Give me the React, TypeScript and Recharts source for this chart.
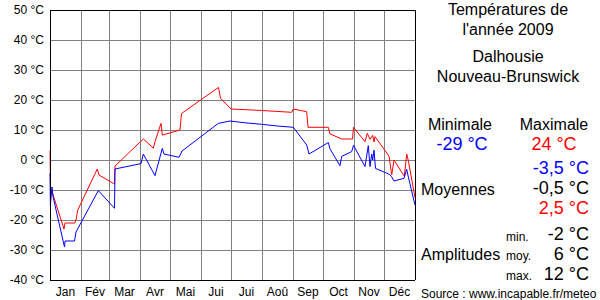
import { CartesianGrid, Line, LineChart, ReferenceLine, XAxis, YAxis } from 'recharts';

// x = day of year (0 = 1 Jan), one pixel per day in the original
const MONTH_STARTS = [0, 31, 59, 90, 120, 151, 181, 212, 243, 273, 304, 334, 365];
const MONTH_LABELS = ['Jan', 'Fév', 'Mar', 'Avr', 'Mai', 'Jui', 'Jui', 'Aoû', 'Sep', 'Oct', 'Nov', 'Déc'];
const MONTH_MIDS = MONTH_LABELS.map((_, i) => (MONTH_STARTS[i] + MONTH_STARTS[i + 1]) / 2);
const Y_TICKS = [-40, -30, -20, -10, 0, 10, 20, 30, 40, 50];

const MAX_DAYS = [
  0, 0.6, 1.5, 14, 15, 24.7, 26, 27.7, 47.3, 49, 63.3, 64.5, 65, 93.3, 102, 103.3, 105, 111, 112.3, 130,
  131.5, 168.5, 170.5, 181, 211.7, 241.7, 243.3, 256.7, 258, 278.3, 280, 291.7, 302.5, 303.5, 315, 317.3,
  320, 322.7, 324, 325, 339, 341.7, 344, 354.3, 356.7, 358.3, 365,
];
const MAX_TEMPS = [
  3, -10, -10, -23, -21, -21, -20, -16.7, -3, -5, -7.8, -8, -2, 7, 4.4, 3.9, 6.1, 12.2, 8.3, 10,
  15.5, 24.2, 20.6, 17, 16.5, 15.9, 17, 16.1, 10.9, 10.9, 8.7, 7, 7, 10.9, 6.1, 8.9,
  6.9, 8.2, 6, 7.8, 1.3, -5, 0, -5.4, 2, -0.2, -12.5,
];

const MIN_DAYS = [
  0, 0.4, 2, 3, 14.5, 15, 24.5, 26, 48.3, 64.5, 65, 91, 93.3, 105, 112.3, 114, 129, 132, 168.3, 180,
  195, 211.7, 228.3, 243.3, 256.7, 259, 278.3, 280, 290, 291.7, 301.7, 303.5, 315, 318.3, 320, 321.7,
  322.7, 324, 325.5, 339, 341.7, 344, 354, 356.7, 358.3, 365,
];
const MIN_TEMPS = [
  -4.4, -15, -9, -12.2, -29, -27, -27, -24, -10.2, -16.1, -3, -1.2, 2, -5.2, 3.9, 2, 0.9, 3, 12.2, 13,
  12.4, 11.9, 11.3, 10.9, 5, 2, 5.8, 3.7, -1.9, 1.2, 2.8, 4.9, -2.2, 4.8, -2.2, 2,
  0, 3.3, -2.8, -4.7, -5.6, -7, -6.1, -3.1, -5.6, -15,
];

const TITLE_LINES = ["Températures de", "l'année 2009"];
const PLACE_LINES = ['Dalhousie', 'Nouveau-Brunswick'];
const EXTREMES = { min: '-29 °C', max: '24 °C' };
const MEANS = ['-3,5 °C', '-0,5 °C', '2,5 °C'];
const AMPLITUDE_LABELS = ['min.', 'moy.', 'max.'];
const AMPLITUDES = ['-2 °C', '6 °C', '12 °C'];
const SOURCE = 'Source : www.incapable.fr/meteo';

const maxData = MAX_DAYS.map((d, i) => ({ d, t: MAX_TEMPS[i] }));
const minData = MIN_DAYS.map((d, i) => ({ d, t: MIN_TEMPS[i] }));

const RED = '#ff0000';
const BLUE = '#0000ff';
const GRID = '#808080';
const FONT = '"Liberation Sans", Arial, sans-serif';

const SidePanel = () => (
  <svg width={600} height={300} style={{ position: 'absolute', left: 0, top: 0, pointerEvents: 'none' }} fontFamily={FONT}>
    <g fontSize={16} textAnchor="middle" fill="#000">
      <text x={508} y={15}>{TITLE_LINES[0]}</text>
      <text x={508} y={35}>{TITLE_LINES[1]}</text>
      <text x={508} y={62}>{PLACE_LINES[0]}</text>
      <text x={508} y={82}>{PLACE_LINES[1]}</text>
      <text x={460} y={130}>Minimale</text>
      <text x={554} y={130}>Maximale</text>
    </g>
    <g fontSize={18} textAnchor="middle">
      <text x={462} y={150} fill={BLUE}>{EXTREMES.min}</text>
      <text x={554} y={150} fill={RED}>{EXTREMES.max}</text>
    </g>
    <g fontSize={18} textAnchor="end">
      <text x={589} y={174} fill={BLUE}>{MEANS[0]}</text>
      <text x={589} y={194} fill="#000">{MEANS[1]}</text>
      <text x={589} y={214} fill={RED}>{MEANS[2]}</text>
      <text x={589} y={240} fill="#000">{AMPLITUDES[0]}</text>
      <text x={589} y={260} fill="#000">{AMPLITUDES[1]}</text>
      <text x={589} y={280} fill="#000">{AMPLITUDES[2]}</text>
    </g>
    <text x={421} y={195} fontSize={16}>Moyennes</text>
    <text x={421} y={260} fontSize={16}>Amplitudes</text>
    <g fontSize={12}>
      <text x={506} y={241}>{AMPLITUDE_LABELS[0]}</text>
      <text x={506} y={260}>{AMPLITUDE_LABELS[1]}</text>
      <text x={506} y={280}>{AMPLITUDE_LABELS[2]}</text>
    </g>
    <text x={421} y={298} fontSize={12}>{SOURCE}</text>
  </svg>
);

export default function App() {
  return (
    <div style={{ position: 'absolute', left: 0, top: 0, width: 600, height: 300, background: '#fff', fontFamily: FONT }}>
      <LineChart width={600} height={300} margin={{ top: 10, right: 185, bottom: 0, left: 0 }}>
        <CartesianGrid vertical={false} stroke={GRID} strokeWidth={1} shapeRendering="crispEdges" />
        {MONTH_STARTS.slice(1, -1).map((m) => (
          <ReferenceLine key={m} x={m} stroke={GRID} strokeWidth={1} shapeRendering="crispEdges" />
        ))}
        <ReferenceLine y={50} stroke="#000" strokeWidth={1} shapeRendering="crispEdges" />
        <ReferenceLine x={365} stroke="#000" strokeWidth={1} shapeRendering="crispEdges" />
        <XAxis
          type="number"
          dataKey="d"
          domain={[0, 365]}
          ticks={MONTH_MIDS}
          interval={0}
          tickFormatter={(v: number) => MONTH_LABELS[MONTH_MIDS.indexOf(v)]}
          tickLine={false}
          tickSize={0}
          tickMargin={7}
          height={20}
          axisLine={{ stroke: '#000', shapeRendering: 'crispEdges' }}
          tick={{ fill: '#000', fontSize: 12, fontFamily: FONT }}
        />
        <YAxis
          type="number"
          domain={[-40, 50]}
          ticks={Y_TICKS}
          interval={0}
          tickFormatter={(v: number) => `${v} °C`}
          tickLine={false}
          tickSize={0}
          tickMargin={6}
          width={50}
          axisLine={{ stroke: '#000', shapeRendering: 'crispEdges' }}
          tick={{ fill: '#000', fontSize: 12, fontFamily: FONT }}
        />
        <Line data={maxData} dataKey="t" type="linear" stroke={RED} strokeWidth={1} dot={false} isAnimationActive={false} />
        <Line data={minData} dataKey="t" type="linear" stroke={BLUE} strokeWidth={1} dot={false} isAnimationActive={false} />
      </LineChart>
      <SidePanel />
    </div>
  );
}
